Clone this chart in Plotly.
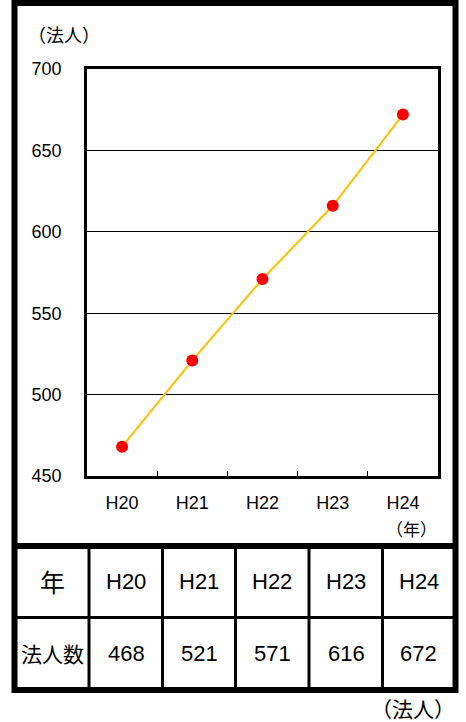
import plotly.graph_objects as go

# ---- data ----
years = ["H20", "H21", "H22", "H23", "H24"]
corporations = [468, 521, 571, 616, 672]
y_ticks = [450, 500, 550, 600, 650, 700]
row_header_year = "年"
row_header_count = "法人数"
unit_top = "（法人）"
unit_x = "（年）"
unit_bottom = "（法人）"

W, H = 466, 722
FONT = "Liberation Sans, Arial, Noto Sans CJK JP, sans-serif"
CJK = "Noto Sans CJK JP, sans-serif"


def px(x):
    return x / W


def py(y):
    return 1 - y / H


fig = go.Figure()
fig.add_trace(go.Scatter(
    x=years, y=corporations, mode="lines+markers",
    line=dict(color="#FFC000", width=2),
    marker=dict(color="#FF0000", size=12),
    showlegend=False, hoverinfo="x+y",
))

shapes = []
shapes.append(dict(type="rect", xref="paper", yref="paper",
                   x0=px(14.5), x1=px(455.5), y0=py(690), y1=py(3),
                   line=dict(color="black", width=6)))
shapes.append(dict(type="line", xref="paper", yref="paper",
                   x0=px(14.5), x1=px(455.5), y0=py(546), y1=py(546),
                   line=dict(color="black", width=6)))
shapes.append(dict(type="line", xref="paper", yref="paper",
                   x0=px(14.5), x1=px(455.5), y0=py(617.5), y1=py(617.5),
                   line=dict(color="black", width=3)))
col_lines = [89, 162.5, 235.5, 309, 382.5]
for cx in col_lines:
    shapes.append(dict(type="line", xref="paper", yref="paper",
                       x0=px(cx), x1=px(cx), y0=py(546), y1=py(690),
                       line=dict(color="black", width=3)))


def ann(text, x, y, family, size):
    return dict(text=text, x=px(x), y=py(y), xref="paper", yref="paper",
                xanchor="center", yanchor="middle", showarrow=False,
                font=dict(family=family, size=size, color="black"))


annotations = [
    ann(unit_top, 64, 34, CJK, 18),
    ann(unit_x, 411, 528, CJK, 17),
    ann(unit_bottom, 413, 708, CJK, 21),
]

col_centers = [52, 126, 199, 272, 346, 418.5]
row1_y, row2_y = 581, 653
annotations.append(ann(row_header_year, col_centers[0], row1_y, CJK, 25))
annotations.append(ann(row_header_count, col_centers[0], row2_y, CJK, 21))
for i, (yr, v) in enumerate(zip(years, corporations)):
    annotations.append(ann(yr, col_centers[i + 1], row1_y, FONT, 22))
    annotations.append(ann(str(v), col_centers[i + 1], row2_y, FONT, 22))

fig.update_layout(
    width=W, height=H,
    margin=dict(l=0, r=0, t=0, b=0, pad=0),
    paper_bgcolor="white", plot_bgcolor="white",
    font=dict(family=FONT, size=18, color="black"),
    xaxis=dict(domain=[px(87), px(438)], range=[-0.5, 4.5],
               showgrid=False, showline=True,
               linecolor="black", linewidth=2.5, mirror=True,
               ticks="inside", tickson="boundaries", ticklen=5, tickwidth=1,
               tickcolor="black", ticklabelstandoff=9, fixedrange=True,
               automargin=False),
    yaxis=dict(domain=[py(476), py(69)], range=[450, 700], tickvals=y_ticks,
               showgrid=True, gridcolor="black", gridwidth=1, zeroline=False,
               showline=True, linecolor="black", linewidth=2.5, mirror=True,
               ticks="", ticklabelstandoff=19, fixedrange=True,
               automargin=False),
    shapes=shapes, annotations=annotations,
)

fig.write_html("out.html",
               config={"displayModeBar": False},
               post_script="document.body.style.margin='0px';")
